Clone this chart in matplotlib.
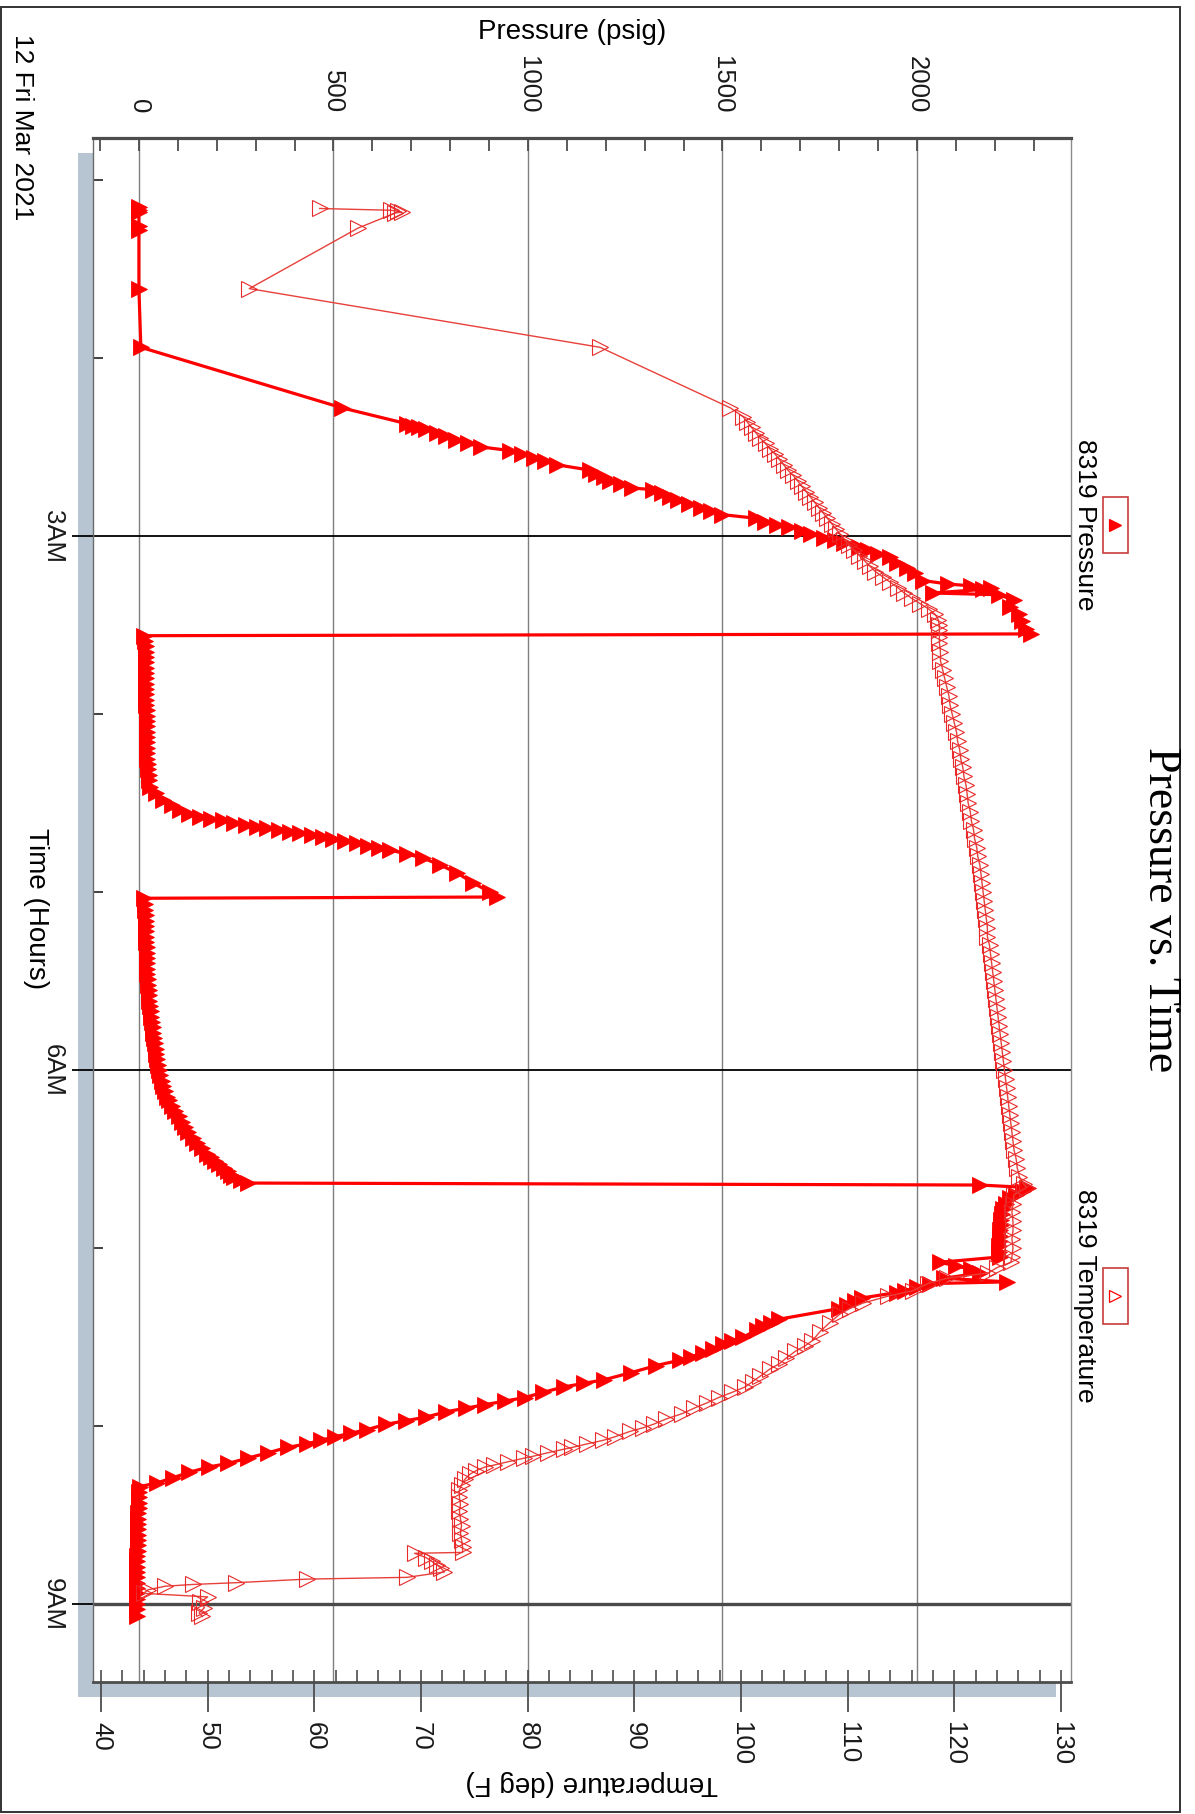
import matplotlib
matplotlib.use('Agg')
import matplotlib.pyplot as plt
from matplotlib.patches import Rectangle
from matplotlib.lines import Line2D
from matplotlib.ticker import MultipleLocator

plt.rcParams['font.family'] = ['Liberation Sans', 'DejaVu Sans']

# 8319 Pressure: time of day (hours) and pressure (psig)
p_hours = [
    1.15, 1.17, 1.18, 1.26, 1.28, 1.61, 1.94, 2.28,
    2.37, 2.38, 2.39, 2.40, 2.42, 2.44, 2.46, 2.48, 2.50, 2.52,
    2.54, 2.56, 2.58, 2.60, 2.63, 2.65, 2.67, 2.69, 2.71, 2.73,
    2.74, 2.76, 2.78, 2.80, 2.82, 2.84, 2.86, 2.88, 2.90, 2.92,
    2.94, 2.95, 2.97, 2.99, 3.01, 3.02, 3.04, 3.06, 3.08, 3.10,
    3.12, 3.15, 3.18, 3.21, 3.25, 3.27, 3.28, 3.29, 3.30, 3.32,
    3.33, 3.36, 3.40, 3.44, 3.48, 3.52, 3.55, 3.56, 3.59, 3.62,
    3.65, 3.68, 3.71, 3.74, 3.77, 3.80, 3.83, 3.86, 3.89, 3.92,
    3.95, 3.98, 4.01, 4.04, 4.07, 4.10, 4.13, 4.16, 4.19, 4.22,
    4.25, 4.28, 4.31, 4.34, 4.37, 4.41, 4.444, 4.483, 4.511, 4.539,
    4.562, 4.579, 4.587, 4.596, 4.610, 4.624, 4.635, 4.643, 4.652, 4.663,
    4.671, 4.680, 4.691, 4.702, 4.713, 4.725, 4.739, 4.753, 4.764, 4.787,
    4.809, 4.848, 4.893, 4.949, 5.000, 5.028, 5.035, 5.07, 5.10, 5.13,
    5.16, 5.19, 5.22, 5.25, 5.28, 5.31, 5.34, 5.37, 5.40, 5.43,
    5.46, 5.49, 5.52, 5.55, 5.58, 5.61, 5.64, 5.67, 5.70, 5.73,
    5.76, 5.79, 5.82, 5.85, 5.88, 5.91, 5.94, 5.97, 6.00, 6.03,
    6.06, 6.09, 6.12, 6.15, 6.17, 6.20, 6.23, 6.26, 6.29, 6.32,
    6.35, 6.38, 6.41, 6.44, 6.47, 6.49, 6.51, 6.53, 6.55, 6.57,
    6.59, 6.60, 6.62, 6.635, 6.646, 6.66, 6.68, 6.70, 6.72, 6.75,
    6.78, 6.81, 6.84, 6.87, 6.90, 6.93, 6.96, 6.99, 7.02, 7.05,
    7.08, 7.10, 7.12, 7.14, 7.17, 7.19, 7.20, 7.22, 7.24, 7.25,
    7.28, 7.30, 7.32, 7.34, 7.40, 7.42, 7.44, 7.46, 7.50, 7.52,
    7.54, 7.57, 7.59, 7.61, 7.63, 7.66, 7.70, 7.74, 7.76, 7.78,
    7.81, 7.84, 7.86, 7.88, 7.90, 7.92, 7.95, 7.97, 7.99, 8.02,
    8.04, 8.06, 8.08, 8.10, 8.12, 8.15, 8.18, 8.21, 8.23, 8.26,
    8.29, 8.32, 8.34, 8.37, 8.40, 8.43, 8.46, 8.49, 8.52, 8.55,
    8.58, 8.61, 8.64, 8.67, 8.70, 8.73, 8.76, 8.79, 8.82, 8.85,
    8.88, 8.91, 8.94, 8.97, 9.00, 9.03, 9.07,
]
p_psig = [
    0, 0, 0, 0, 0, 0, 5, 522,
    690, 705, 720, 738, 765, 790, 815, 845, 880, 955,
    985, 1015, 1045, 1075, 1160, 1175, 1195, 1210, 1240, 1268,
    1322, 1345, 1365, 1385, 1415, 1445, 1470, 1500, 1585, 1610,
    1640, 1670, 1705, 1728, 1760, 1790, 1812, 1850, 1875, 1900,
    1930, 1950, 1975, 1995, 2016, 2080, 2140, 2190, 2170, 2040,
    2210, 2250, 2240, 2262, 2270, 2280, 2292, 14, 16, 17,
    17, 18, 18, 18, 18, 19, 19, 19, 19, 19,
    19, 20, 20, 20, 20, 20, 21, 21, 21, 22,
    22, 23, 24, 25, 26, 28, 45, 62, 85, 105,
    130, 157, 185, 216, 245, 275, 303, 330, 360, 388,
    415, 445, 473, 500, 530, 560, 590, 618, 645, 690,
    730, 774, 818, 859, 902, 920, 13, 15, 16, 17,
    17, 18, 18, 19, 19, 20, 20, 21, 21, 22,
    22, 23, 24, 25, 26, 27, 28, 30, 31, 33,
    35, 37, 39, 41, 43, 45, 47, 49, 51, 55,
    59, 63, 68, 73, 77, 85, 93, 102, 111, 118,
    126, 138, 150, 163, 176, 185, 196, 207, 218, 228,
    238, 244, 262, 280, 2162, 2285, 2272, 2255, 2240, 2228,
    2222, 2219, 2216, 2215, 2214, 2213, 2213, 2212, 2212, 2214,
    2059, 2100, 2140, 2162, 2070, 2232, 2034, 2000, 1970, 1949,
    1860, 1840, 1820, 1800, 1645, 1625, 1605, 1590, 1553, 1525,
    1501, 1476, 1450, 1420, 1391, 1330, 1265, 1196, 1145, 1093,
    1040, 992, 940, 890, 840, 789, 738, 686, 636, 586,
    545, 504, 468, 432, 382, 332, 280, 229, 180, 129,
    88, 46, 2, 0, 0, -1, -1, -2, -2, -2,
    -3, -3, -3, -3, -3, -4, -4, -4, -4, -4,
    -4, -4, -4, -4, -4, -4, -4,
]

# 8319 Temperature: time of day (hours) and temperature (deg F)
t_hours = [
    1.16, 1.17, 1.175, 1.18, 1.185, 1.27, 1.61, 1.94, 2.28,
    2.33, 2.36, 2.39, 2.42, 2.45, 2.48, 2.51, 2.54, 2.57, 2.60,
    2.63, 2.66, 2.69, 2.72, 2.75, 2.78, 2.81, 2.84, 2.87, 2.90,
    2.93, 2.96, 2.99, 3.02, 3.05, 3.08, 3.11, 3.14, 3.17, 3.20,
    3.23, 3.26, 3.29, 3.32, 3.35, 3.38, 3.41, 3.44, 3.47, 3.50,
    3.53, 3.57, 3.60, 3.65, 3.70, 3.75, 3.80, 3.85, 3.90, 3.95,
    4.00, 4.05, 4.10, 4.15, 4.20, 4.25, 4.30, 4.35, 4.40, 4.45,
    4.50, 4.55, 4.60, 4.65, 4.70, 4.75, 4.80, 4.85, 4.90, 4.95,
    5.00, 5.05, 5.10, 5.15, 5.20, 5.25, 5.30, 5.35, 5.40, 5.45,
    5.50, 5.55, 5.60, 5.65, 5.70, 5.75, 5.80, 5.85, 5.90, 5.95,
    6.00, 6.05, 6.10, 6.15, 6.20, 6.25, 6.30, 6.35, 6.40, 6.45,
    6.50, 6.55, 6.60, 6.64, 6.66, 6.70, 6.75, 6.80, 6.85, 6.90,
    6.95, 7.00, 7.05, 7.08, 7.11, 7.14, 7.17, 7.20, 7.24, 7.27,
    7.31, 7.34, 7.37, 7.42, 7.47, 7.52, 7.55, 7.58, 7.62, 7.65,
    7.68, 7.72, 7.75, 7.78, 7.81, 7.84, 7.87, 7.90, 7.93, 7.96,
    7.99, 8.01, 8.03, 8.06, 8.08, 8.10, 8.12, 8.13, 8.15, 8.17,
    8.18, 8.20, 8.22, 8.23, 8.25, 8.27, 8.30, 8.33, 8.36, 8.40,
    8.44, 8.48, 8.52, 8.56, 8.60, 8.64, 8.68, 8.71, 8.715, 8.74,
    8.76, 8.78, 8.80, 8.82, 8.85, 8.86, 8.88, 8.89, 8.90, 8.92,
    8.94, 8.96, 8.99, 9.02, 9.05, 9.07,
]
t_degf = [
    60.5, 67.2, 67.8, 68.2, 67.6, 64.1, 53.9, 86.8, 99.0,
    100.2, 100.6, 101.0, 101.4, 101.8, 102.3, 102.7, 103.2, 103.6, 104.0,
    104.4, 104.9, 105.3, 105.7, 106.1, 106.5, 106.9, 107.3, 107.7, 108.1,
    108.5, 108.9, 109.3, 109.7, 110.1, 110.6, 111.1, 111.6, 112.1, 112.6,
    113.3, 114.0, 114.7, 115.3, 116.0, 116.8, 117.6, 118.2, 118.5, 118.6,
    118.6, 118.6, 118.6, 118.7, 118.7, 118.9, 119.1, 119.3, 119.5, 119.6,
    119.8, 120.0, 120.2, 120.3, 120.5, 120.6, 120.8, 120.9, 121.1, 121.2,
    121.3, 121.5, 121.6, 121.8, 121.9, 122.1, 122.2, 122.4, 122.5, 122.6,
    122.7, 122.8, 122.9, 123.0, 123.1, 123.1, 123.3, 123.4, 123.5, 123.6,
    123.7, 123.8, 123.9, 124.0, 124.1, 124.2, 124.3, 124.4, 124.5, 124.6,
    124.7, 124.8, 124.9, 125.0, 125.1, 125.2, 125.3, 125.4, 125.5, 125.6,
    125.8, 125.9, 126.1, 126.5, 126.8, 125.6, 125.5, 125.4, 125.5, 125.5,
    125.4, 125.5, 125.4, 125.3, 124.0, 123.2, 119.3, 117.5, 116.1, 113.8,
    111.4, 110.2, 109.3, 108.3, 107.4, 106.7, 106.0, 105.1, 104.2, 103.6,
    102.7, 101.8, 101.1, 100.4, 99.2, 97.9, 96.8, 95.6, 94.5, 93.0,
    91.8, 90.8, 89.6, 88.2, 87.1, 85.6, 84.2, 83.4, 81.9, 80.5,
    79.7, 78.2, 76.8, 76.0, 75.2, 74.6, 74.1, 73.8, 73.6, 73.6,
    73.7, 73.6, 73.7, 73.8, 73.7, 73.8, 73.9, 73.9, 69.4, 70.5,
    71.0, 71.5, 71.9, 72.2, 68.7, 59.3, 52.7, 48.6, 46.0, 44.4,
    44.0, 50.0, 49.3, 49.7, 49.2, 49.5,
]

time_ticks = [3, 6, 9]
time_labels = ['3AM', '6AM', '9AM']
hour_minor = [1, 2, 4, 5, 7, 8]

W, H = 1195, 1814


def fx(x):
    return x / W


def fy(y):
    return 1 - y / H


fig = plt.figure(figsize=(W / 100, H / 100), dpi=100)

# drop shadow behind the plot frame and the outer border
fig.patches.append(Rectangle((fx(78), fy(1697)), (1056 - 78) / W, (1697 - 153) / H,
                             transform=fig.transFigure, facecolor='#b7c4d1',
                             edgecolor='none', zorder=-5))
fig.patches.append(Rectangle((fx(1), fy(1812)), (1180 - 1) / W, (1812 - 7) / H,
                             transform=fig.transFigure, facecolor='none',
                             edgecolor='#333333', lw=1.4, zorder=-4))

ax = fig.add_axes([fx(93), fy(1682), (1071 - 93) / W, (1682 - 138) / H])
ax.set_facecolor('white')
ax2 = ax.twiny()

# temperature first so that pressure sits in the same frame
ax.set_xlim(-118, 2396)
ax.set_ylim(9.438, 0.764)
ax2.set_xlim(39.25, 130.94)

ax2.plot(t_degf, t_hours, color='#e8403a', lw=1.0, marker='>', ms=11,
         mfc='none', mec='#e82a2a', mew=0.8, zorder=3)
ax.plot(p_psig, p_hours, color='#ff0000', lw=2.3, marker='>', ms=11,
        mfc='#ff0000', mec='#ff0000', mew=0.6, zorder=3)

# pressure axis on top
ax.xaxis.tick_top()
ax.xaxis.set_major_locator(MultipleLocator(500))
ax.xaxis.set_minor_locator(MultipleLocator(100))
ax.tick_params(axis='x', which='both', direction='in', top=True, bottom=False,
               labeltop=True, labelbottom=False, length=9, width=1.3,
               color='#4d4d4d')
ax.tick_params(axis='x', which='major', labelrotation=-90, labelsize=18.5,
               pad=18, labelcolor='#1a1a1a')

# time axis on the left
ax.set_yticks(time_ticks, labels=time_labels)
ax.set_yticks(hour_minor, minor=True)
ax.tick_params(axis='y', which='major', direction='out', length=15, width=1.3,
               color='black', labelrotation=-90, labelsize=18.5, pad=5,
               labelcolor='#1a1a1a', right=False)
ax.tick_params(axis='y', which='minor', direction='in', length=7, width=1.3,
               color='#333333', right=False)
for lbl in ax.get_yticklabels():
    lbl.set_verticalalignment('center')

ax.set_axisbelow(True)
ax.grid(True, axis='x', which='major', color='#7f7f7f', lw=1.0)
ax.grid(True, axis='y', which='major', color='black', lw=1.3)
ax.get_ygridlines()[2].set_color('#4a4a4a')
ax.get_ygridlines()[2].set_linewidth(2.4)

ax.spines['top'].set(color='#4d4d4d', lw=2.3)
ax.spines['bottom'].set(color='#4d4d4d', lw=2.0)
ax.spines['left'].set(color='#6b6b6b', lw=1.0)
ax.spines['right'].set(color='#8c8c8c', lw=1.0)

# temperature axis at the bottom
for s in ax2.spines.values():
    s.set_visible(False)
ax2.xaxis.set_ticks_position('bottom')
ax2.xaxis.set_major_locator(MultipleLocator(10))
ax2.xaxis.set_minor_locator(MultipleLocator(2))
ax2.xaxis.remove_overlapping_locs = False
ax2.tick_params(axis='x', which='major', direction='out', length=21.6, width=1.3,
                color='#4d4d4d', labelrotation=-90, labelsize=18.5, pad=7,
                labelcolor='#1a1a1a', top=False, bottom=True,
                labelbottom=True, labeltop=False)
ax2.tick_params(axis='x', which='minor', direction='in', length=8.6, width=1.2,
                color='#4d4d4d', top=False, bottom=True)

# axis titles and captions
fig.text(fx(572), fy(32), 'Pressure (psig)', fontsize=20, ha='center', va='center')
fig.text(fx(592), fy(1783), 'Temperature (deg F)', fontsize=20, rotation=180,
         ha='center', va='center')
fig.text(fx(22), fy(127), '12 Fri Mar 2021', fontsize=19, rotation=-90,
         ha='center', va='center')
fig.text(fx(36), fy(909), 'Time (Hours)', fontsize=20, rotation=-90,
         ha='center', va='center')
fig.text(fx(1160), fy(910), 'Pressure vs. Time', family='Liberation Serif',
         fontsize=33, rotation=-90, ha='center', va='center')

# legend entries
for name, yc, face in [('8319 Pressure', 525, '#ff0000'),
                       ('8319 Temperature', 1296, 'none')]:
    fig.text(fx(1085), fy(yc), name, fontsize=19, rotation=-90,
             ha='center', va='center')
    fig.patches.append(Rectangle((fx(1103), fy(yc + 28)), 25 / W, 56 / H,
                                 transform=fig.transFigure, facecolor='white',
                                 edgecolor='#c83c3c', lw=1.2))
    fig.add_artist(Line2D([fx(1115)], [fy(yc)], transform=fig.transFigure,
                          marker='>', ms=9, mfc=face, mec='#ff0000', mew=0.9,
                          linestyle='none'))

fig.savefig('out.png', dpi=100)
